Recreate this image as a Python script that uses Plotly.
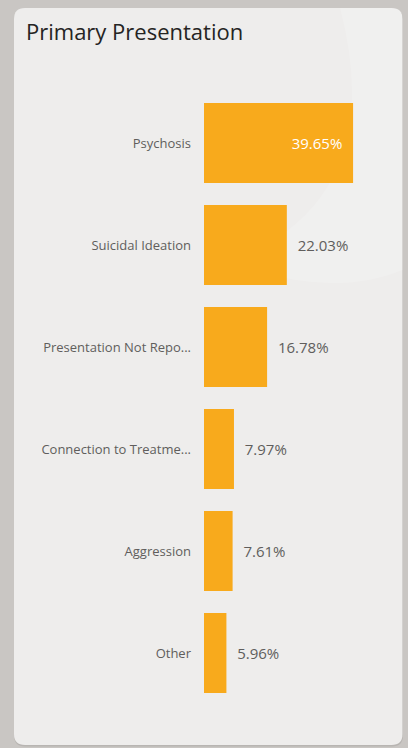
import plotly.graph_objects as go

categories = ["Psychosis", "Suicidal Ideation", "Presentation Not Repo...",
              "Connection to Treatme...", "Aggression", "Other"]
values = [39.65, 22.03, 16.78, 7.97, 7.61, 5.96]
value_labels = ["39.65%", "22.03%", "16.78%", "7.97%", "7.61%", "5.96%"]

W, H = 408, 748
ML, MR, MT, MB = 204, 30, 92, 44
PW, PH = W - ML - MR, H - MT - MB
PX_PER_UNIT = 3.76
NB = "\u00a0"


def px(x):
    return (x - ML) / PW


def py(y):
    return (H - MB - y) / PH


def rounded_rect(x0, y0, x1, y1, r):
    return (f"M {px(x0 + r)},{py(y0)} L {px(x1 - r)},{py(y0)} "
            f"Q {px(x1)},{py(y0)} {px(x1)},{py(y0 + r)} "
            f"L {px(x1)},{py(y1 - r)} Q {px(x1)},{py(y1)} {px(x1 - r)},{py(y1)} "
            f"L {px(x0 + r)},{py(y1)} Q {px(x0)},{py(y1)} {px(x0)},{py(y1 - r)} "
            f"L {px(x0)},{py(y0 + r)} Q {px(x0)},{py(y0)} {px(x0 + r)},{py(y0)} Z")


positions = ["inside" if v > 30 else "outside" for v in values]
texts = [(t + NB * 2) if p == "inside" else (NB * 2 + t)
         for t, p in zip(value_labels, positions)]

fig = go.Figure(go.Bar(
    x=values,
    y=categories,
    orientation="h",
    marker=dict(color="#F8AA1C", line=dict(width=0)),
    text=texts,
    textposition=positions,
    insidetextanchor="end",
    textangle=0,
    insidetextfont=dict(color="#ffffff", size=15, family="Open Sans"),
    outsidetextfont=dict(color="#605e5c", size=15, family="Open Sans"),
    cliponaxis=False,
    hoverinfo="skip",
))

shapes = [
    # card shadow
    dict(type="path", xref="paper", yref="paper", layer="below",
         path=rounded_rect(14, 9, 403, 746.5, 11),
         fillcolor="#b8b5b2", line=dict(width=0)),
    # card
    dict(type="path", xref="paper", yref="paper", layer="below",
         path=rounded_rect(14, 8, 402.5, 745, 11),
         fillcolor="#eeedec", line=dict(width=0)),
    # subtle light swoosh
    dict(type="path", xref="paper", yref="paper", layer="below",
         path=(f"M {px(340)},{py(8)} L {px(392)},{py(8)} "
               f"Q {px(402.5)},{py(8)} {px(402.5)},{py(18)} "
               f"L {px(402.5)},{py(270)} "
               f"Q {px(330)},{py(300)} {px(230)},{py(262)} "
               f"Q {px(390)},{py(200)} {px(340)},{py(8)} Z"),
         fillcolor="rgba(255,255,255,0.16)", line=dict(width=0)),
]

fig.update_layout(
    width=W, height=H,
    margin=dict(l=ML, r=MR, t=MT, b=MB, pad=0),
    paper_bgcolor="#c9c6c3",
    plot_bgcolor="rgba(0,0,0,0)",
    shapes=shapes,
    bargap=22 / 102,
    showlegend=False,
    font=dict(family="Open Sans", color="#605e5c"),
    title=dict(text="Primary Presentation", x=26 / W, xanchor="left",
               xref="container", yref="container", y=1 - 25 / H, yanchor="top",
               font=dict(family="Open Sans", size=22, color="#252423")),
    xaxis=dict(range=[0, PW / PX_PER_UNIT], visible=False, fixedrange=True),
    yaxis=dict(categoryorder="array", categoryarray=categories,
               autorange="reversed", showgrid=False, zeroline=False,
               showline=False, ticks="", automargin=False,
               ticklabelstandoff=12,
               tickfont=dict(family="Open Sans", size=13, color="#605e5c")),
)

fig.write_html("out.html")
